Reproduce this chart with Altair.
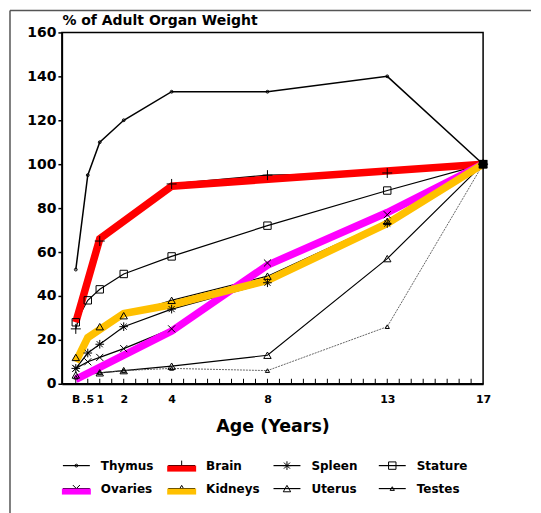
import altair as alt
import pandas as pd

# ---------------- data ----------------
x_tick_values = [0, 0.5, 1, 2, 4, 8, 13, 17]
x_tick_labels = ["B", ".5", "1", "2", "4", "8", "13", "17"]
minor_ticks = [0, 0.5, 1, 1.5, 2, 2.5, 3, 3.5, 4, 4.5, 5, 5.5, 6, 6.5, 7, 7.5, 8,
               8.5, 9, 9.5, 10, 10.5, 11, 11.5, 12, 12.5, 13, 13.5, 14, 14.5, 15,
               15.5, 16, 16.5]
y_tick_values = [0, 20, 40, 60, 80, 100, 120, 140, 160]

thymus_ages = [0, 0.5, 1, 2, 4, 8, 13, 17]
thymus_vals = [52, 95, 110, 120, 133, 133, 140, 100]
brain_ages = [0, 1, 4, 8, 13, 17]
brain_vals = [25, 65, 91, 95, 96, 100]
spleen_ages = [0, 0.5, 1, 2, 4, 8, 13, 17]
spleen_vals = [7, 14, 18, 26, 34, 46, 73, 100]
stature_ages = [0, 0.5, 1, 2, 4, 8, 13, 17]
stature_vals = [28, 38, 43, 50, 58, 72, 88, 100]
ovaries_ages = [0, 0.5, 1, 2, 4, 8, 13, 17]
ovaries_vals = [7, 10, 12, 16, 25, 55, 77, 100]
kidneys_ages = [0, 1, 2, 4, 8, 13, 17]
kidneys_vals = [12, 26, 31, 38, 49, 74, 100]
uterus_ages = [0, 1, 2, 4, 8, 13, 17]
uterus_vals = [4, 5, 6, 8, 13, 57, 100]
testes_ages = [0, 1, 2, 4, 8, 13, 17]
testes_vals = [3, 5, 6, 7, 6, 26, 100]

# highlighted (coloured) overlays
brain_hl_ages = [0, 1, 4, 17]
brain_hl_vals = [28, 66, 90, 100]
ovaries_hl_ages = [0, 4, 8, 13, 17]
ovaries_hl_vals = [2, 24, 54, 78, 100]
kidneys_hl_ages = [0, 0.5, 2, 4, 8, 13, 17]
kidneys_hl_vals = [10, 21, 32, 36, 47, 73, 100]

end_age = [17]
end_val = [100]

legend_names = ["Thymus", "Brain", "Spleen", "Stature",
                "Ovaries", "Kidneys", "Uterus", "Testes"]
legend_cols = [0, 1, 2, 3, 0, 1, 2, 3]
legend_rows = [0, 0, 0, 0, 1, 1, 1, 1]

# ---------------- styles ----------------
FONT = "DejaVu Sans"
W, H = 422, 352
ASTER = "M-1,0H1M0,-1V1M-0.7,-0.7L0.7,0.7M-0.7,0.7L0.7,-0.7"
PLUS = "M-1,0H1M0,-1V1"
XSHAPE = "M-1,-1L1,1M-1,1L1,-1"
markers = {
    "Thymus": ("circle", 8),
    "Brain": (PLUS, 100),
    "Spleen": (ASTER, 75),
    "Stature": ("square", 55),
    "Ovaries": (XSHAPE, 50),
    "Kidneys": ("triangle-up", 55),
    "Uterus": ("triangle-up", 55),
    "Testes": ("triangle-up", 18),
}
series = {
    "Thymus": (thymus_ages, thymus_vals),
    "Brain": (brain_ages, brain_vals),
    "Spleen": (spleen_ages, spleen_vals),
    "Stature": (stature_ages, stature_vals),
    "Ovaries": (ovaries_ages, ovaries_vals),
    "Kidneys": (kidneys_ages, kidneys_vals),
    "Uterus": (uterus_ages, uterus_vals),
    "Testes": (testes_ages, testes_vals),
}
highlights = [
    ("Brain", brain_hl_ages, brain_hl_vals, "#ff0000"),
    ("Ovaries", ovaries_hl_ages, ovaries_hl_vals, "#ff00ff"),
    ("Kidneys", kidneys_hl_ages, kidneys_hl_vals, "#ffc000"),
]
hl_color = {n: c for n, _, _, c in highlights}

xscale = alt.Scale(domain=[-0.58, 17], nice=False, zero=False)
yscale = alt.Scale(domain=[0, 160], nice=False, zero=False)

label_expr = ""
for v, l in zip(x_tick_values, x_tick_labels):
    label_expr += f"datum.value == {v} ? '{l}' : "
label_expr += "datum.label"

x_axis = alt.Axis(values=x_tick_values, labelExpr=label_expr, ticks=False, tickSize=0,
                  labelPadding=10, labelFont=FONT, labelFontWeight="bold",
                  labelFontSize=11, labelColor="black", labelOverlap=False,
                  labelFlush=False, grid=False, domainColor="black", domainWidth=2,
                  title="Age (Years)", titleFont=FONT, titleFontWeight="bold",
                  titleFontSize=17.5, titleColor="black", titleY=48,
                  titleBaseline="alphabetic")
y_axis = alt.Axis(values=y_tick_values, tickSize=4, tickColor="black", tickWidth=1.5,
                  labelPadding=2, labelFont=FONT, labelFontWeight="bold",
                  labelFontSize=14, labelColor="black", grid=False,
                  domainColor="black", domainWidth=1.5,
                  title="% of Adult Organ Weight", titleFont=FONT,
                  titleFontWeight="bold", titleFontSize=14, titleColor="black",
                  titleAngle=0, titleX=0, titleY=-8, titleAlign="left",
                  titleBaseline="alphabetic")

def X():
    return alt.X("age:Q", scale=xscale, axis=x_axis)

def Y():
    return alt.Y("value:Q", scale=yscale, axis=y_axis)

layers = []
# thin black lines
for name, (ages, vals) in series.items():
    df = pd.DataFrame({"age": ages, "value": vals})
    if name == "Testes":
        mk = dict(color="#555555", strokeWidth=0.9, strokeDash=[2, 1])
    else:
        mk = dict(color="black", strokeWidth=1.5 if name == "Thymus" else 1.2)
    layers.append(alt.Chart(df).mark_line(**mk).encode(x=X(), y=Y()))

# minor ticks on x axis (pointing inward)
layers.append(
    alt.Chart(pd.DataFrame({"age": minor_ticks}))
    .mark_rule(color="black", strokeWidth=1)
    .encode(x=X(), y=alt.value(H), y2=alt.value(H - 5))
)

# thick coloured overlays
for name, ages, vals, col in highlights:
    df = pd.DataFrame({"age": ages, "value": vals})
    layers.append(alt.Chart(df).mark_line(color=col, strokeWidth=7.5)
                  .encode(x=X(), y=Y()))

# markers
for name, (ages, vals) in series.items():
    shape, size = markers[name]
    df = pd.DataFrame({"age": ages, "value": vals})
    layers.append(alt.Chart(df).mark_point(shape=shape, size=size, filled=False,
                                           color="black", strokeWidth=1, opacity=1)
                  .encode(x=X(), y=Y()))

# end point
layers.append(alt.Chart(pd.DataFrame({"age": end_age, "value": end_val}))
              .mark_point(shape="square", size=75, filled=True, color="black", opacity=1)
              .encode(x=X(), y=Y()))

# outer frame (decorative)
one = pd.DataFrame({"a": [0]})
layers.append(alt.Chart(one).mark_rule(color="#555555", strokeWidth=1.5)
              .encode(x=alt.value(-52), y=alt.value(-22), y2=alt.value(482)))
layers.append(alt.Chart(one).mark_rule(color="#555555", strokeWidth=1.5)
              .encode(x=alt.value(-52), x2=alt.value(470), y=alt.value(-22)))

main = alt.layer(*layers).properties(
    width=W, height=H,
    view=alt.ViewBackground(stroke="black", strokeWidth=1.5))

# ---------------- legend panel ----------------
leg_df = pd.DataFrame({"series": legend_names, "col": legend_cols, "row": legend_rows})
lx = alt.X("col:Q", scale=alt.Scale(domain=[0, 4], nice=False, zero=False), axis=None)
ly = alt.Y("row:Q", scale=alt.Scale(domain=[0, 1], nice=False, zero=False, reverse=True),
           axis=None)

leg_layers = [
    alt.Chart(leg_df).mark_rule(color="black", strokeWidth=1.2, xOffset=1, x2Offset=28)
    .encode(x=lx, x2="col:Q", y=ly)
]
for name, c, r in zip(legend_names, legend_cols, legend_rows):
    shape, size = markers[name]
    d = pd.DataFrame({"col": [c], "row": [r]})
    leg_layers.append(alt.Chart(d).mark_point(shape=shape, size=size, filled=False,
                                              color="black", strokeWidth=1, opacity=1,
                                              xOffset=14.5)
                      .encode(x=lx, y=ly))
for name, c, r in zip(legend_names, legend_cols, legend_rows):
    if name in hl_color:
        d = pd.DataFrame({"col": [c], "row": [r]})
        leg_layers.append(alt.Chart(d).mark_rule(color=hl_color[name], strokeWidth=6,
                                                 xOffset=0, x2Offset=29, yOffset=3,
                                                 y2Offset=3)
                          .encode(x=lx, x2="col:Q", y=ly))
leg_layers.append(
    alt.Chart(leg_df).mark_text(align="left", baseline="middle", dx=39, font=FONT,
                                fontWeight="bold", fontSize=12, color="black")
    .encode(x=lx, y=ly, text="series:N")
)
legend = alt.layer(*leg_layers).properties(
    width=W, height=23, view=alt.ViewBackground(stroke="transparent"))

chart = alt.vconcat(main, legend, spacing=82, bounds="flush").properties(
    padding={"left": 0, "top": 0, "right": 0, "bottom": 0}
).configure_view(stroke="transparent").configure(font=FONT)

chart.save("out.html", embed_options={"renderer": "svg", "actions": False})
